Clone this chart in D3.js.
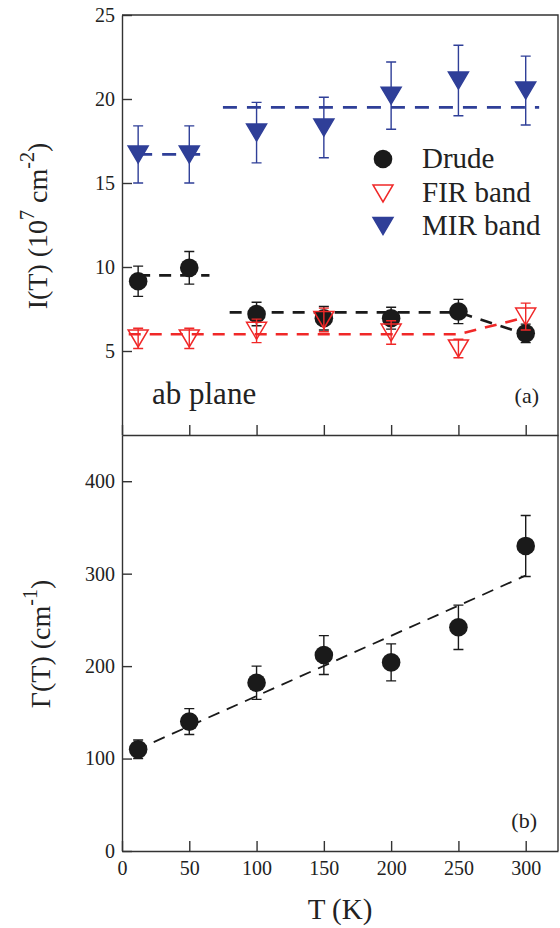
<!DOCTYPE html>
<html>
<head>
<meta charset="utf-8">
<script src="https://cdn.jsdelivr.net/npm/d3@7"></script>
<style>
  html, body { margin: 0; padding: 0; background: #fff; }
  svg { display: block; }
  svg text { font-family: "Liberation Serif", "Times New Roman", Times, "DejaVu Serif", serif; }
</style>
</head>
<body>
<svg id="chart" width="560" height="928"></svg>
<script>
// ---------- data ----------
const temps = [12, 50, 100, 150, 200, 250, 300];
const drude = [9.15, 9.95, 7.2, 6.95, 6.95, 7.35, 6.05];
const drudeErr = [0.9, 0.97, 0.7, 0.7, 0.65, 0.72, 0.55];
const fir = [5.75, 5.75, 6.2, 6.85, 6.1, 5.15, 7.05];
const firErr = [0.6, 0.6, 0.7, 0.7, 0.7, 0.55, 0.8];
const mir = [16.7, 16.7, 18.0, 18.3, 20.2, 21.1, 20.5];
const mirErr = [1.7, 1.7, 1.8, 1.8, 2.0, 2.1, 2.05];
const gamma = [110, 140, 182, 212, 204, 242, 330];
const gammaErr = [10, 14, 18, 21, 20, 24, 33];

const drudeLines = [[[12, 9.5], [65, 9.5]], [[80, 7.3], [250, 7.3], [300, 6.0]]];
const firLines = [[[5, 6.0], [250, 6.0], [300, 7.0]]];
const mirLines = [[[12, 16.7], [65, 16.7]], [[75, 19.5], [310, 19.5]]];
const fitLine = [[10, 109], [300, 298]];

const xTicks = [0, 50, 100, 150, 200, 250, 300];
const yTopTicks = [5, 10, 15, 20, 25];
const yBotTicks = [0, 100, 200, 300, 400];
const legendLabels = ["Drude", "FIR band", "MIR band"];

// ---------- styles ----------
const FONT = '"Liberation Serif", "Times New Roman", Times, "DejaVu Serif", serif';
const BLACK = "#1a1a1a", RED = "#f02828", BLUE = "#2f3f98", AXIS = "#333";
const svg = d3.select("#chart");

const x = d3.scaleLinear().domain([0, 324]).range([122, 558]);
const yTop = d3.scaleLinear().domain([0, 25]).range([435, 15]);
const yBot = d3.scaleLinear().domain([0, 450]).range([851, 435]);

// ---------- axes ----------
function styleAxis(g) {
  g.attr("font-family", FONT);
  g.selectAll("path.domain").attr("stroke", AXIS).attr("stroke-width", 1.4);
  g.selectAll(".tick line").attr("stroke", AXIS).attr("stroke-width", 1.4);
  g.selectAll("text").attr("fill", "#222").attr("font-family", FONT).style("font-size", "20px");
}

svg.append("g").attr("transform", "translate(122,0)")
  .call(d3.axisLeft(yTop).tickValues(yTopTicks).tickSizeInner(-10).tickSizeOuter(0).tickPadding(7))
  .call(styleAxis);
svg.append("g").attr("transform", "translate(122,0)")
  .call(d3.axisLeft(yBot).tickValues(yBotTicks).tickSizeInner(-10).tickSizeOuter(0).tickPadding(7))
  .call(styleAxis);
svg.append("g").attr("transform", "translate(0,435)")
  .call(d3.axisBottom(x).tickValues(xTicks).tickSizeInner(-10).tickSizeOuter(0).tickFormat(""))
  .call(styleAxis);
svg.append("g").attr("transform", "translate(0,851)")
  .call(d3.axisBottom(x).tickValues(xTicks).tickSizeInner(-10).tickSizeOuter(0).tickPadding(10))
  .call(styleAxis);

// frame: top & right
svg.append("path")
  .attr("d", `M${x(0)},${yTop(25)}H${x.range()[1]}V${yBot(0)}`)
  .attr("fill", "none").attr("stroke", AXIS).attr("stroke-width", 1.4);

// ---------- dashed lines ----------
function dashed(pts, yS, color, dash, w) {
  svg.append("path")
    .attr("d", d3.line().x(d => x(d[0])).y(d => yS(d[1]))(pts))
    .attr("fill", "none").attr("stroke", color).attr("stroke-width", w)
    .attr("stroke-dasharray", dash);
}
mirLines.forEach(p => dashed(p, yTop, BLUE, "14,10", 2.8));
firLines.forEach(p => dashed(p, yTop, RED, "12,9", 2.6));
drudeLines.forEach(p => dashed(p, yTop, BLACK, "12,9", 2.6));
dashed(fitLine, yBot, BLACK, "12,8", 1.8);

// ---------- markers ----------
const triDown = "M-10,-8.5L10,-8.5L0,8.5Z";

function errorBars(vals, errs, yS, color) {
  const g = svg.append("g").attr("stroke", color).attr("stroke-width", 1.4).attr("fill", "none");
  vals.forEach((v, i) => {
    const cx = x(temps[i]), y1 = yS(v + errs[i]), y2 = yS(v - errs[i]);
    g.append("path").attr("d", `M${cx},${y1}V${y2}M${cx - 5},${y1}H${cx + 5}M${cx - 5},${y2}H${cx + 5}`);
  });
}
function circles(vals, yS) {
  svg.append("g").selectAll("circle").data(vals).join("circle")
    .attr("cx", (d, i) => x(temps[i])).attr("cy", d => yS(d)).attr("r", 9.3)
    .attr("fill", BLACK);
}
function triangles(vals, yS, fill, stroke) {
  svg.append("g").selectAll("path").data(vals).join("path")
    .attr("d", triDown)
    .attr("transform", (d, i) => `translate(${x(temps[i])},${yS(d)})`)
    .attr("fill", fill).attr("stroke", stroke).attr("stroke-width", 1.5);
}

errorBars(drude, drudeErr, yTop, BLACK);
circles(drude, yTop);
errorBars(fir, firErr, yTop, RED);
triangles(fir, yTop, "none", RED);
errorBars(mir, mirErr, yTop, BLUE);
triangles(mir, yTop, BLUE, BLUE);

errorBars(gamma, gammaErr, yBot, BLACK);
circles(gamma, yBot);

// ---------- legend ----------
const legRows = [159, 193.5, 226];
const leg = svg.append("g");
leg.append("circle").attr("cx", 383).attr("cy", legRows[0]).attr("r", 9.3).attr("fill", BLACK);
leg.append("path").attr("d", triDown).attr("transform", `translate(383,${legRows[1]})`)
  .attr("fill", "none").attr("stroke", RED).attr("stroke-width", 1.5);
leg.append("path").attr("d", triDown).attr("transform", `translate(383,${legRows[2]})`)
  .attr("fill", BLUE).attr("stroke", BLUE).attr("stroke-width", 1.5);
legendLabels.forEach((t, i) => {
  leg.append("text").attr("x", 422).attr("y", legRows[i] + 8.5)
    .attr("font-family", FONT).attr("fill", "#222").style("font-size", "29px").text(t);
});

// ---------- annotations ----------
function label(xp, yp, size, txt, anchor) {
  return svg.append("text").attr("x", xp).attr("y", yp).attr("text-anchor", anchor || "start")
    .attr("font-family", FONT).attr("fill", "#222").style("font-size", size + "px").text(txt);
}
label(152, 404, 31, "ab plane");
label(539, 403, 22, "(a)", "end");
label(537, 828, 22, "(b)", "end");
label(340, 919, 29, "T (K)", "middle");

// y titles
const t1 = svg.append("text").attr("transform", "translate(47,226) rotate(-90)")
  .attr("text-anchor", "middle").attr("font-family", FONT).attr("fill", "#222").style("font-size", "28px");
t1.append("tspan").text("I(T) (10");
t1.append("tspan").attr("dy", -13).style("font-size", "20px").text("7");
t1.append("tspan").attr("dy", 13).text(" cm");
t1.append("tspan").attr("dy", -13).style("font-size", "20px").text("-2");
t1.append("tspan").attr("dy", 13).text(")");

const t2 = svg.append("text").attr("transform", "translate(50,644) rotate(-90)")
  .attr("text-anchor", "middle").attr("font-family", FONT).attr("fill", "#222").style("font-size", "28px");
t2.append("tspan").text("Γ(T) (cm");
t2.append("tspan").attr("dy", -13).style("font-size", "20px").text("-1");
t2.append("tspan").attr("dy", 13).text(")");
</script>
</body>
</html>
